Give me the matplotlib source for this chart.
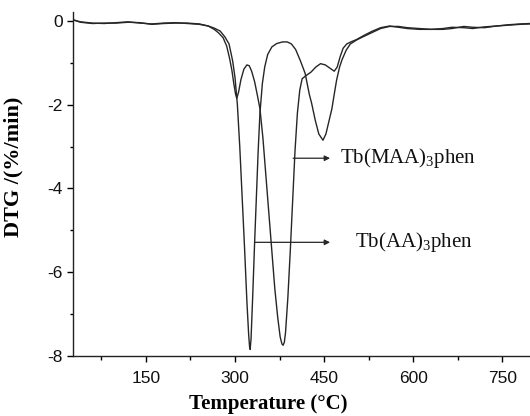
import matplotlib
matplotlib.use("Agg")
import matplotlib.pyplot as plt
from matplotlib.ticker import MultipleLocator

# temperature (C) and DTG (%/min)
temp_aa = [27, 40, 60, 80, 100, 120, 140, 160, 180, 200, 220, 240, 255, 265, 275,
           283, 290, 296, 300, 304, 308, 312, 316, 320, 323, 324.5, 325.5, 327, 330, 333,
           336, 339, 342, 346, 350, 355, 362, 370, 380, 388, 395, 402, 410, 418,
           425, 429, 435, 441, 448, 453, 458, 463, 467, 471, 476, 480, 487, 494,
           505, 515, 530, 545, 560, 575, 590, 610, 630, 650, 665, 685, 700, 720,
           740, 760, 780, 797]
dtg_aa = [0.03, -0.02, -0.05, -0.06, -0.04, -0.02, -0.05, -0.07, -0.05, -0.04,
          -0.06, -0.08, -0.12, -0.17, -0.24, -0.38, -0.55, -0.95, -1.35, -2.0,
          -3.0, -4.2, -5.4, -6.7, -7.5, -7.78, -7.85, -7.6, -6.5, -5.3, -4.2, -3.1,
          -2.2, -1.5, -1.1, -0.8, -0.62, -0.54, -0.5, -0.5, -0.55, -0.68, -0.95,
          -1.25, -1.75, -1.97, -2.37, -2.7, -2.85, -2.7, -2.4, -2.1, -1.75, -1.41,
          -1.1, -0.93, -0.7, -0.55, -0.45, -0.38, -0.28, -0.18, -0.13, -0.13,
          -0.16, -0.18, -0.2, -0.2, -0.18, -0.13, -0.15, -0.16, -0.12, -0.1,
          -0.08, -0.07]

temp_maa = [27, 40, 60, 80, 100, 120, 140, 160, 180, 200, 220, 240, 255, 265, 272,
            280, 286, 291, 295, 298, 301, 303, 306, 310, 315, 320, 324, 328, 333,
            338, 342, 347, 352, 357, 362, 367, 372, 376, 379, 381, 383, 385, 389, 393, 397,
            401, 405, 409, 413, 420, 428, 436, 444, 452, 460, 467, 472, 477, 482,
            488, 495, 505, 515, 530, 545, 560, 575, 590, 610, 630, 650, 665, 685,
            700, 720, 740, 760, 780, 797]
dtg_maa = [0.03, -0.03, -0.06, -0.05, -0.05, -0.03, -0.04, -0.08, -0.06, -0.05,
           -0.05, -0.07, -0.12, -0.2, -0.28, -0.4, -0.6, -0.9, -1.2, -1.5, -1.75,
           -1.85, -1.7, -1.4, -1.15, -1.05, -1.07, -1.2, -1.45, -1.8, -2.1, -2.8,
           -3.7, -4.6, -5.5, -6.4, -7.1, -7.55, -7.72, -7.75, -7.68, -7.45, -6.6, -5.5, -4.3,
           -3.1, -2.2, -1.65, -1.38, -1.3, -1.22, -1.1, -1.02, -1.05, -1.13, -1.2,
           -1.1, -0.85, -0.65, -0.55, -0.5, -0.44, -0.36, -0.25, -0.16, -0.12,
           -0.15, -0.18, -0.2, -0.2, -0.18, -0.15, -0.16, -0.18, -0.14, -0.12,
           -0.09, -0.07, -0.06]

labels = ["Tb(MAA)$_3$phen", "Tb(AA)$_3$phen"]

plt.rcParams['axes.unicode_minus'] = False
plt.rcParams['mathtext.fontset'] = 'custom'
plt.rcParams['mathtext.rm'] = 'Liberation Serif'
plt.rcParams['mathtext.it'] = 'Liberation Serif:italic'

W, H = 530, 416
fig = plt.figure(figsize=(W / 100, H / 100), dpi=100)
ax = fig.add_axes([73 / W, 1 - 355.7 / H, (W - 73) / W, (355.7 - 12) / H])

line_col = "#262626"
ax.plot(temp_aa, dtg_aa, color=line_col, lw=1.0)
ax.plot(temp_maa, dtg_maa, color=line_col, lw=1.0)

ax.set_xlim(27.4, 796.4)
ax.set_ylim(-8, 0.215)

for side in ("top", "right"):
    ax.spines[side].set_visible(False)
for side in ("left", "bottom"):
    ax.spines[side].set_linewidth(1.0)
    ax.spines[side].set_color("#222222")

ax.xaxis.set_major_locator(MultipleLocator(150))
ax.xaxis.set_minor_locator(MultipleLocator(75))
ax.yaxis.set_major_locator(MultipleLocator(2))
ax.yaxis.set_minor_locator(MultipleLocator(1))
ax.tick_params(axis="x", which="major", direction="out", length=4.5, width=1.0, pad=6.5)
ax.tick_params(axis="x", which="minor", direction="out", length=3, width=1.0)
ax.tick_params(axis="y", which="major", direction="out", length=4.5, width=1.0, pad=3)
ax.tick_params(axis="y", which="minor", direction="out", length=2.5, width=1.0)
for lab in ax.get_xticklabels() + ax.get_yticklabels():
    lab.set_fontfamily("Liberation Sans")
    lab.set_fontsize(12.5)
    lab.set_color("#111111")

# arrows pointing from curves to their names
arrow = dict(arrowstyle="-|>", color=line_col, lw=0.9, mutation_scale=8, shrinkA=0, shrinkB=0)
ax.annotate("", xy=(460, -3.28), xytext=(397.8, -3.28), arrowprops=arrow)
ax.annotate("", xy=(460, -5.29), xytext=(333.8, -5.29), arrowprops=arrow)
ax.text(477, -3.28, labels[0], fontfamily="Liberation Serif", fontsize=15, va="center", color="#111111")
ax.text(502, -5.29, labels[1], fontfamily="Liberation Serif", fontsize=15, va="center", color="#111111")

fig.text(13 / W, 1 - 167 / H, "DTG /(%/min)", rotation=90, ha="center", va="center",
         fontfamily="Liberation Serif", fontweight="bold", fontsize=16)
fig.text(268 / W, 1 - 404 / H, "Temperature (\u00b0C)", ha="center", va="center",
         fontfamily="Liberation Serif", fontweight="bold", fontsize=15)

fig.savefig("out.png", dpi=100)
